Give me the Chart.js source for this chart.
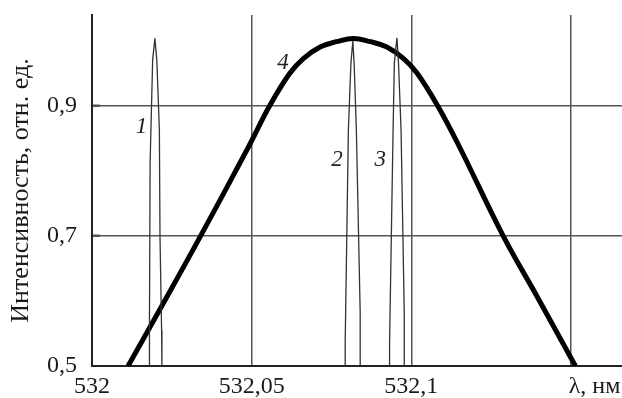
<!DOCTYPE html>
<html>
<head>
<meta charset="utf-8">
<script src="https://cdn.jsdelivr.net/npm/chart.js@4/dist/chart.umd.min.js"></script>
<style>
  body { margin: 0; background: #fff; }
  #wrap { width: 622px; height: 398px; }
</style>
</head>
<body>
<div id="wrap"><canvas id="spectrum" width="622" height="398"></canvas></div>
<script>
// axis ticks
const xTicks = [532, 532.05, 532.1, 532.15, 532.1574];
const xTickLabels = ['532', '532,05', '532,1', '', 'λ, нм'];
const xGrid = [532.05, 532.1, 532.15];
const yTicks = [0.5, 0.7, 0.9];
const yTickLabels = ['0,5', '0,7', '0,9'];
const yGrid = [0.7, 0.9];

// curve 4 (broad line)
const curve4X = [532.0113, 532.0216, 532.0339, 532.0490, 532.0556, 532.0619, 532.0662, 532.0716, 532.0766,
                 532.0819,
                 532.0872, 532.0922, 532.0976, 532.1019, 532.1083, 532.1148, 532.1289, 532.1394, 532.1514];
const curve4Y = [0.5, 0.590, 0.699, 0.837, 0.900, 0.950, 0.973, 0.991, 0.999,
                 1.004,
                 0.999, 0.991, 0.973, 0.950, 0.900, 0.840, 0.699, 0.607, 0.5];

// narrow lines 1, 2, 3 (traced up the left side, down the right)
const line1X = [532.0180, 532.0180, 532.0182, 532.0190, 532.0197, 532.0203, 532.0211, 532.0213, 532.0218, 532.0219];
const line1Y = [0.5, 0.571, 0.812, 0.971, 1.004, 0.971, 0.863, 0.699, 0.555, 0.5];
const line2X = [532.0793, 532.0793, 532.0803, 532.0811, 532.0817, 532.0821, 532.0828, 532.0840, 532.0840];
const line2Y = [0.5, 0.535, 0.863, 0.966, 1.0, 0.966, 0.863, 0.582, 0.5];
const line3X = [532.0932, 532.0932, 532.0943, 532.0947, 532.0955, 532.0960, 532.0968, 532.0978, 532.0978];
const line3Y = [0.5, 0.535, 0.863, 0.966, 1.005, 0.966, 0.863, 0.582, 0.5];

// curve numbers
const curveNames = ['1', '2', '3', '4'];
const nameX = [532.0155, 532.0767, 532.0903, 532.0598];
const nameY = [0.868, 0.817, 0.817, 0.966];

const pts = (xs, ys) => xs.map((x, i) => ({ x: x, y: ys[i] }));
const SERIF = '"Liberation Serif", "Times New Roman", serif';

const thin = (xs, ys) => ({
  data: pts(xs, ys),
  borderColor: '#333',
  borderWidth: 1.3,
  pointRadius: 0,
  tension: 0
});

const curveNumbers = {
  id: 'curveNumbers',
  afterDatasetsDraw(chart) {
    const c = chart.ctx;
    const xs = chart.scales.x, ys = chart.scales.y;
    c.save();
    c.fillStyle = '#222';
    c.font = 'italic 23px ' + SERIF;
    c.textAlign = 'center';
    c.textBaseline = 'middle';
    curveNames.forEach((t, i) => {
      c.fillText(t, xs.getPixelForValue(nameX[i]), ys.getPixelForValue(nameY[i]));
    });
    c.restore();
  }
};

const yGridColor = ctx => (ctx.tick && yGrid.includes(ctx.tick.value)) ? '#555' : 'rgba(0,0,0,0)';

new Chart(document.getElementById('spectrum'), {
  type: 'line',
  data: {
    datasets: [
      thin(line1X, line1Y),
      thin(line2X, line2Y),
      thin(line3X, line3Y),
      {
        data: pts(curve4X, curve4Y),
        borderColor: '#000',
        borderWidth: 5,
        pointRadius: 0,
        tension: 0.4
      }
    ]
  },
  options: {
    responsive: false,
    animation: false,
    layout: { padding: { top: 15, right: 0, left: 0, bottom: 0 } },
    plugins: { legend: { display: false }, tooltip: { enabled: false } },
    scales: {
      x: {
        type: 'linear',
        min: 532,
        max: 532.166,
        afterBuildTicks: s => { s.ticks = xTicks.map(v => ({ value: v })); },
        afterFit: s => { s.height = 32; s.paddingLeft = 0; s.paddingRight = 0; },
        ticks: {
          autoSkip: false,
          maxRotation: 0,
          padding: 6,
          color: '#1a1a1a',
          font: { family: SERIF, size: 24 },
          callback: (v, i) => xTickLabels[i]
        },
        grid: {
          drawTicks: false,
          color: ctx => (ctx.tick && xGrid.includes(ctx.tick.value)) ? '#555' : 'rgba(0,0,0,0)',
          lineWidth: 1.5
        },
        border: { color: '#222', width: 2 }
      },
      y: {
        min: 0.5,
        max: 1.04,
        afterBuildTicks: s => { s.ticks = yTicks.map(v => ({ value: v })); },
        afterFit: s => { s.width = 92; s.paddingTop = 0; s.paddingBottom = 0; },
        ticks: {
          padding: 23,
          color: '#1a1a1a',
          font: { family: SERIF, size: 24 },
          callback: (v, i) => yTickLabels[i]
        },
        grid: {
          drawTicks: true,
          tickLength: -8,
          tickWidth: 2.5,
          tickColor: yGridColor,
          color: yGridColor,
          lineWidth: 1.5
        },
        border: { color: '#222', width: 2 },
        title: {
          display: true,
          text: 'Интенсивность, отн. ед.',
          color: '#1a1a1a',
          font: { family: SERIF, size: 26 },
          padding: { top: 6, bottom: 0 }
        }
      }
    }
  },
  plugins: [curveNumbers]
});
</script>
</body>
</html>
